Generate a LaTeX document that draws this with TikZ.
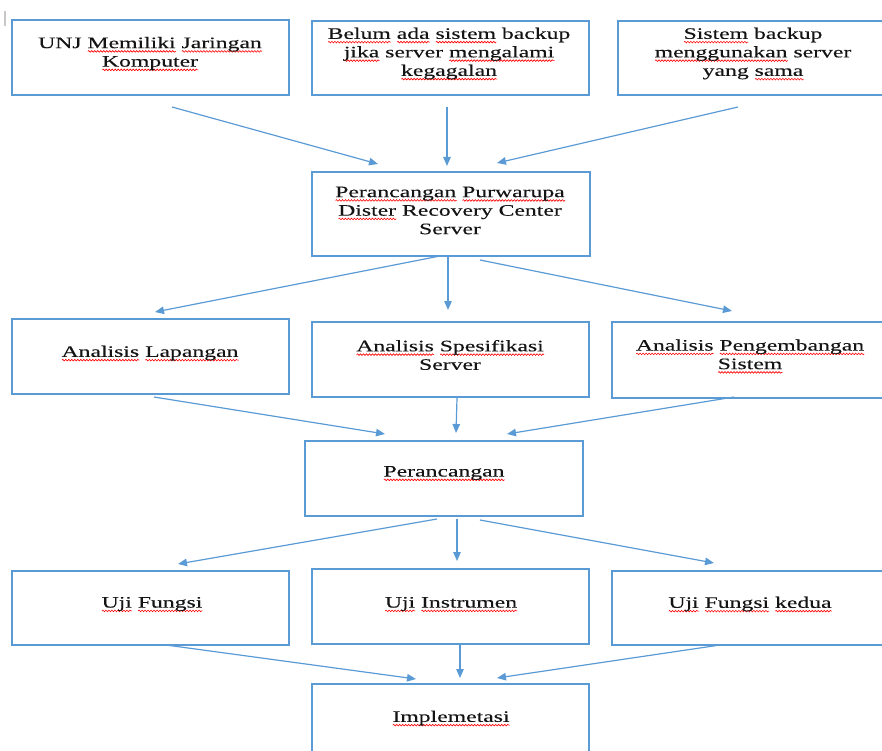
\documentclass[tikz,border=0pt]{standalone}
\usepackage{fontspec}
\setmainfont{Liberation Serif}[FakeStretch=1.48,FakeBold=0.2]
\usetikzlibrary{arrows.meta,decorations.pathmorphing}
\definecolor{lineblue}{HTML}{5B9BD5}
\definecolor{markgray}{HTML}{C8C8C8}
% red wavy proofing mark under a word
\newlength\spellw
\newsavebox\spellbox
\newcommand\spellmark[1]{\sbox\spellbox{#1}\setlength\spellw{\wd\spellbox}%
  \leavevmode\rlap{\tikz[baseline=0pt]\draw[red, line width=0.6pt, decorate,
    decoration={snake, amplitude=0.8pt, segment length=3pt}]
    (0pt,-3.3pt) -- (\spellw,-3.3pt);}\usebox\spellbox}
\begin{document}
\begin{tikzpicture}[x=1pt,y=-1pt,
  box/.style={draw=lineblue, line width=1.4pt, rectangle, anchor=north west,
              inner sep=0pt, outer sep=0pt},
  txt/.style={align=center, font=\fontsize{16}{18.5}\selectfont,
              inner sep=0pt, text=black!92},
  link/.style={draw=lineblue, line width=1.2pt,
               -{Triangle[length=9pt,width=7.5pt]}}]
\useasboundingbox (0,0) rectangle (882,751);
\clip (0,0) rectangle (882,751);

% small margin marker
\draw[markgray, line width=1.5pt] (5,11) -- (5,26);

% boxes: name, left, top, width, height
\newcommand\flowbox[5]{\node[box, minimum width=#4pt, minimum height=#5pt] (#1) at (#2,#3) {};}
\flowbox{b1}{12}{20}{277}{75}
\flowbox{b2}{312}{21}{277}{74}
\flowbox{b3}{618}{21}{280}{74}
\flowbox{b4}{312}{172}{278}{84}
\flowbox{b5}{12}{319}{277}{75}
\flowbox{b6}{312}{322}{277}{75}
\flowbox{b7}{612}{322}{280}{76}
\flowbox{b8}{305}{441}{278}{75}
\flowbox{b9}{12}{571}{277}{74}
\flowbox{b10}{312}{569}{277}{75}
\flowbox{b11}{612}{571}{280}{74}
\flowbox{b12}{312}{684}{277}{90}

% texts
\node[txt] (t1) at (150,54) {UNJ \spellmark{Memiliki} \spellmark{Jaringan}\\ \spellmark{Komputer}};
\node[txt] (t2) at (449,54) {\spellmark{Belum} \spellmark{ada} \spellmark{sistem} backup\\ \spellmark{jika} server \spellmark{mengalami}\\ \spellmark{kegagalan}};
\node[txt] (t3) at (753,54) {\spellmark{Sistem} backup\\ \spellmark{menggunakan} server\\ yang \spellmark{sama}};
\node[txt] (t4) at (450,210.5) {\spellmark{Perancangan} \spellmark{Purwarupa}\\ \spellmark{Dister} Recovery Center\\ Server};
\node[txt] (t5) at (150,353.5) {\spellmark{Analisis} \spellmark{Lapangan}};
\node[txt] (t6) at (450,355) {\spellmark{Analisis} \spellmark{Spesifikasi}\\ Server};
\node[txt] (t7) at (750,356.5) {\spellmark{Analisis} \spellmark{Pengembangan}\\ \spellmark{Sistem}};
\node[txt] (t8) at (444,473.5) {\spellmark{Perancangan}};
\node[txt] (t9) at (152,604.5) {\spellmark{Uji} \spellmark{Fungsi}};
\node[txt] (t10) at (451,604.5) {\spellmark{Uji} \spellmark{Instrumen}};
\node[txt] (t11) at (750,604.5) {\spellmark{Uji} \spellmark{Fungsi} \spellmark{kedua}};
\node[txt] (t12) at (451,718.5) {\spellmark{Implemetasi}};

% connector end points
\coordinate (a1s) at (172,107);  \coordinate (a1e) at (378,164);
\coordinate (a2s) at (447,107);  \coordinate (a2e) at (447,166);
\coordinate (a3s) at (738,107);  \coordinate (a3e) at (497,163);
\coordinate (a4s) at (440,256);  \coordinate (a4e) at (155,312);
\coordinate (a5s) at (448,257);  \coordinate (a5e) at (448,310);
\coordinate (a6s) at (480,260);  \coordinate (a6e) at (732,311);
\coordinate (a7s) at (154,397);  \coordinate (a7e) at (385,434);
\coordinate (a8s) at (457,398);  \coordinate (a8e) at (456,433);
\coordinate (a9s) at (734,397);  \coordinate (a9e) at (507,434);
\coordinate (a10s) at (437,519); \coordinate (a10e) at (178,564);
\coordinate (a11s) at (457,519); \coordinate (a11e) at (457,561);
\coordinate (a12s) at (480,520); \coordinate (a12e) at (714,563);
\coordinate (a13s) at (166,645); \coordinate (a13e) at (416,679);
\coordinate (a14s) at (460,645); \coordinate (a14e) at (460,678);
\coordinate (a15s) at (720,645); \coordinate (a15e) at (497,678);

% connectors
\foreach \i in {1,...,15} \draw[link] (a\i s) -- (a\i e);
\end{tikzpicture}
\end{document}
